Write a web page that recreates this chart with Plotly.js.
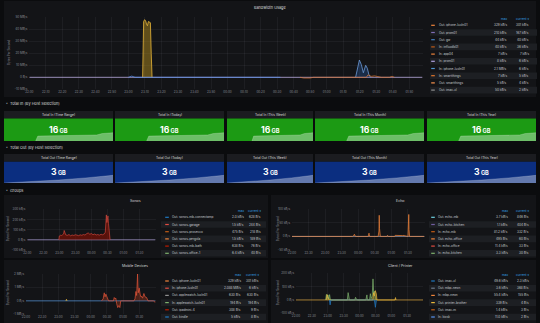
<!DOCTYPE html>
<html><head><meta charset="utf-8">
<script src="https://cdn.plot.ly/plotly-3.0.1.min.js"></script>
<style>html,body{margin:0;padding:0;background:#0b0c0e;overflow:hidden}</style>
</head><body><div id="chart" style="width:540px;height:323px"></div>
<script>
// ================= DATA =================
// time axis: minutes after 22:00
const topTickVals = [0,10,20,30,40,50,60,70,80,90,100,110,120,130,140,150,160,170,180,190,200,210,220,230];
const topTickText = ["22:00","22:10","22:20","22:30","22:40","22:50","23:00","23:10","23:20","23:30","23:40","23:50","00:00","00:10","00:20","00:30","00:40","00:50","01:00","01:10","01:20","01:30","01:40","01:50"];
const grpTickVals = [0,30,60,90,120,150,180,210];
const grpTickText = ["22:00","22:30","23:00","23:30","00:00","00:30","01:00","01:30"];

// Bandwidth Usage (MB/s)
const topYTicks = [-10,0,10,20,30,40,50];
const topYText = ["-10 MB/s","0 B/s","10 MB/s","20 MB/s","30 MB/s","40 MB/s","50 MB/s"];
const topBaseT = [0, 238];
const topBaseV = [0, 0];
const topSpikeT = [68.6, 69.2, 69.8, 70.4, 71.0, 71.5, 72.1, 72.7, 73.3, 73.8, 74.3];
const topSpikeV = [0, 46.5, 48.0, 47.2, 44.0, 43.0, 46.5, 46.0, 45.5, 20, 0];
const topBlueT = [197.5, 198.6, 199.8, 201.0, 202.2, 203.6, 204.6, 205.5, 206.5];
const topBlueV = [0, 8, 14.4, 10.5, 3.8, 10.0, 7.5, 2.5, 0];
const topSmallBlueT = [60, 62, 64, 150, 151, 152];
const topSmallBlueV = [0, 1.0, 0, 0, 0.6, 0];
const topOrangeT = [164, 166, 170, 172, 204, 205, 207, 209, 211, 213, 218, 219.5, 221];
const topOrangeV = [0, -0.6, -0.6, 0, 0, 2.0, 0.8, 1.2, 0.6, 0, 0, 0.7, 0];
const topLegNames = ["Out: iphone-luxln01","Out: prom01","Out: gw","In: influxdb01","In: app04","In: prom01","In: iphone-luxln01","In: smartthings","Out: smartthings","Out: imac-xl"];
const topLegMax = ["329 kB/s","210 kB/s","44 kB/s","40 kB/s","7 kB/s","8 kB/s","2.1 MB/s","7 kB/s","5 kB/s","50 kB/s"];
const topLegCur = ["301 kB/s","167 kB/s","40 kB/s","36 kB/s","7 kB/s","6 kB/s","6 kB/s","5 kB/s","4 kB/s","2 kB/s"];

// Stat panels
const inTitles = ["Total In (Time Range)","Total In (Today)","Total In (This Week)","Total In (This Month)","Total In (This Year)"];
const inValues = ["16","16","16","16","16"];
const outTitles = ["Total Out (Time Range)","Total Out (Today)","Total Out (This Week)","Total Out (This Month)","Total Out (This Year)"];
const outValues = ["3","3","3","3","3"];
const statUnit = "GB";
const inSparkX = [0.29, 0.31, 0.55, 0.80, 0.85, 0.90, 1.0];
const inSparkV = [0, 0.22, 0.24, 0.26, 0.27, 0.33, 0.37];
const outSparkX = [0, 0.25, 0.5, 0.75, 0.85, 1.0];
const outSparkV = [0, 0.06, 0.14, 0.24, 0.28, 0.36];

// Sonos (kB/s)
const sonosYTicks = [-100,0,100,200,300];
const sonosYText = ["-100 kB/s","0 B/s","100 kB/s","200 kB/s","300 kB/s"];
const sonosT = [59,60,62,64,66,68,69,70,72,75,78,81,84,87,90,93,96,99,102,105,108,111,114,117,120,123,126,129,132,135,138,141,144,146,147,148,149,150,151,152,153,154,155];
const sonosV = [0,38,45,42,50,58,92,65,48,44,52,40,47,43,50,46,41,49,45,52,47,60,68,55,62,50,57,48,52,46,55,50,58,75,130,245,170,200,235,160,95,40,0];
const sonosLegNames = ["Out: sonos-mb-connectamp","Out: sonos-garage","Out: sonos-prosecco","Out: sonos-pergola","Out: sonos-mb-bath","Out: sonos-office-1"];
const sonosLegMax = ["2.0 kB/s","1.5 kB/s","475 B/s","1.5 kB/s","638 B/s","6.4 kB/s"];
const sonosLegCur = ["628 B/s","244 B/s","218 B/s","189 B/s","76 B/s","40 B/s"];

// Echo (kB/s)
const echoYTicks = [-50,0,50,100];
const echoYText = ["-50 kB/s","0 B/s","50 kB/s","100 kB/s"];
const echoT = [0,110,112,113,114,116,138,139.5,140,141,156,157.5,158,158.5,160,172,173,174,186,187,200,201,210,211,211.5,212,213,240];
const echoV = [0,0,4,8,2,0,0,12,6,0,0,20,78,30,0,0,4,0,0,4,3,4,0,40,81,25,0,0];
const echoLegNames = ["Out: echo-mb","Out: echo-kitchen","In: echo-mb","Out: echo-office","In: echo-office","In: echo-kitchen"];
const echoLegMax = ["3.7 kB/s","1.1 kB/s","81.2 kB/s","495 B/s","11.4 kB/s","3.3 kB/s"];
const echoLegCur = ["846 B/s","404 B/s","332 B/s","60 B/s","33 B/s","30 B/s"];

// Mobile Devices (MB/s)
const mobYTicks = [-1,0,1,2];
const mobYText = ["-1 MB/s","0 B/s","1 MB/s","2 MB/s"];
const mobT = [140,143,145,146.5,148,149.5,151,153,162,163.5,165,166.5,168,170,172,174,175.5,200,202,203.7,205,206.8,208,209.8,211.5,213,214,216,218.5,220.5,223.5,226,236,239,240];
const mobV = [0,0.15,0.6,0.3,0.5,0.3,0.2,0,0,0.25,0.15,0.2,-0.2,-0.5,-0.35,-0.5,0,0,0.15,0.7,0.4,2.0,0.6,0.95,0.5,0.3,0.35,0.2,0.55,0.3,0.25,0,0,-0.1,-0.1];
const mobBlipT = [74, 75, 76];
const mobBlipV = [0, 0.12, 0];
const mobLegNames = ["Out: iphone-luxln01","In: iphone-luxln01","Out: applewatch-luxln01","In: applewatch-luxln01","Out: ipadmini-4","Out: kindle"];
const mobLegMax = ["329 kB/s","2.088 MB/s","630 B/s","194 B/s","308 B/s","5 kB/s"];
const mobLegCur = ["301 kB/s","6 kB/s","630 B/s","194 B/s","9 B/s","8 B/s"];

// Client / Printer (kB/s)
const cliYTicks = [-100,0,100,200];
const cliYText = ["-100 kB/s","0 B/s","100 kB/s","200 kB/s"];
const cliGreenT = [56,57.5,59,60.5,62,63.5,65,97,98.5,99.5,101,111,112.5,114,116,132,134,135,139,140.5,142,144,145.5,147,148,150,152];
const cliGreenV = [0,42,10,38,5,40,0,0,55,20,0,0,20,8,0,0,38,0,0,47,10,30,158,40,66,20,0];
const cliYellowT = [57,59,60,61,63,145,146.7,148,150,151.8,153,187,188,189];
const cliYellowV = [0,40,25,15,0,0,55,30,70,45,0,0,18,0];
const cliBlueT = [63,64.5,66,148,150,152];
const cliBlueV = [0,-37,0,0,-55,0];
const cliLegNames = ["Out: imac-xl","Out: mbp-neon","In: mbp-neon","Out: printer-brother","Out: imac-m","In: kiosk"];
const cliLegMax = ["49.6 kB/s","3.6 kB/s","55.4 kB/s","339 B/s","1.4 kB/s","11.0 kB/s"];
const cliLegCur = ["2.3 kB/s","368 B/s","155 B/s","4 B/s","3 B/s","2 B/s"];

// ================= STYLE =================
const W = 540, H = 323;
const X = p => p / W, Y = p => 1 - p / H;
const FONT = 'Inter, Roboto, "DejaVu Sans", sans-serif';
const PAGE = '#0b0c0e', PANEL = '#131417', STRIPE = '#1d1f23', HEAD = '#1b1c20';
const GRID = 'rgba(204,204,220,0.10)', TICK = '#8e9098', TXT = '#c7cbd1', BLUE_TXT = '#33a2e5';
const TS = 3.0, LS = 3.1;
const topLegColors = ['#EF843C','#806EB7','#447EBC','#C15C17','#EF843C','#AEA2E0','#5195CE','#E0752D','#F9934E','#8F8F8F'];
const sonosLegColors = ['#1F78C1','#E24D42','#C15C17','#EF843C','#BF1B00','#7EB26D'];
const echoLegColors = ['#6ED0E0','#705DA0','#C15C17','#EF843C','#E24D42','#7EB26D'];
const mobLegColors = ['#EF843C','#E24D42','#8F8F8F','#7EB26D','#BF1B00','#1F78C1'];
const cliLegColors = ['#1F78C1','#6D7B8D','#EF843C','#EAB839','#C15C17','#5794F2'];

const shapes = [], annotations = [], traces = [];
const layout = {
  width: W, height: H, margin: {l:0, r:0, t:0, b:0},
  paper_bgcolor: PAGE, plot_bgcolor: 'rgba(0,0,0,0)',
  showlegend: false, font: {family: FONT, color: TXT},
  hovermode: false
};

function rect(x0, y0, x1, y1, color) {
  shapes.push({type:'rect', xref:'paper', yref:'paper', x0:X(x0), x1:X(x1), y0:Y(y1), y1:Y(y0),
    fillcolor: color, line:{width:0}, layer:'below'});
}
function txt(x, y, text, size, color, xanchor, opts) {
  annotations.push(Object.assign({xref:'paper', yref:'paper', x:X(x), y:Y(y), text:text, showarrow:false,
    xanchor: xanchor || 'center', yanchor:'middle', borderpad:0,
    font:{size:size, color:color, family:FONT}}, opts || {}));
}
function axes(i, box, yr, ytv, ytt, xr, xtv, xtt) {
  const s = i === 1 ? '' : String(i);
  layout['xaxis' + s] = {domain:[X(box[0]), X(box[1])], range:xr, anchor:'y' + s,
    tickmode:'array', tickvals:xtv, ticktext:xtt, showgrid:true, gridcolor:GRID, gridwidth:0.6,
    zeroline:false, showline:false, ticks:'', tickfont:{size:TS, color:TICK, family:FONT},
    ticklabelstandoff:0, fixedrange:true};
  layout['yaxis' + s] = {domain:[Y(box[3]), Y(box[2])], range:yr, anchor:'x' + s,
    tickmode:'array', tickvals:ytv, ticktext:ytt, showgrid:true, gridcolor:GRID, gridwidth:0.6,
    zeroline:false, showline:false, ticks:'', tickfont:{size:TS, color:TICK, family:FONT},
    ticklabelstandoff:1, fixedrange:true};
}
function series(i, x, y, color, fillcolor, width) {
  const s = i === 1 ? '' : String(i);
  const t = {type:'scatter', mode:'lines', x:x, y:y, xaxis:'x' + s, yaxis:'y' + s,
    line:{color:color, width:width || 0.7}, hoverinfo:'skip'};
  if (fillcolor) { t.fill = 'tozeroy'; t.fillcolor = fillcolor; }
  traces.push(t);
}
function legend(cfg, names, maxs, curs, colors) {
  txt(cfg.maxR, cfg.headY, 'max', LS, BLUE_TXT, 'right');
  txt(cfg.curR, cfg.headY, 'current ▾', LS, BLUE_TXT, 'right');
  names.forEach((n, i) => {
    const yy = cfg.row0 + i * cfg.dy;
    if (i % 2 === 1) rect(cfg.x0, yy - 3.3, cfg.x1, yy + 3.3, STRIPE);
    shapes.push({type:'line', xref:'paper', yref:'paper', x0:X(cfg.mk - 1.8), x1:X(cfg.mk + 1.8),
      y0:Y(yy), y1:Y(yy), line:{color:colors[i], width:1.2}});
    txt(cfg.nameX, yy, n, LS, TXT, 'left');
    txt(cfg.maxR, yy, maxs[i], LS, TXT, 'right');
    txt(cfg.curR, yy, curs[i], LS, TXT, 'right');
  });
}

// ---------- panel backgrounds ----------
rect(4, 1, 536, 97, PANEL);
rect(4, 195, 268, 258, PANEL);
rect(271, 195, 536, 258, PANEL);
rect(4, 260, 268, 323, PANEL);
rect(271, 260, 536, 323, PANEL);

// ---------- Bandwidth Usage ----------
txt(270, 7, 'Bandwidth Usage', 3.8, '#d8d9da');
txt(9, 53, 'Bytes Per Second', 3.0, TICK, 'center', {textangle:-90});
axes(1, [29.3, 422.5, 17.3, 89.3], [-10, 50], topYTicks, topYText, [0, 238], topTickVals, topTickText);
series(1, topBaseT, topBaseV, '#b9a8de', null, 0.8);
series(1, topSpikeT, topSpikeV, '#EAB839', 'rgba(190,148,30,0.45)', 0.8);
series(1, topBlueT, topBlueV, '#6C9BD8', 'rgba(40,90,160,0.35)', 0.8);
series(1, topSmallBlueT, topSmallBlueV, '#5794F2', null, 0.7);
series(1, topOrangeT, topOrangeV, '#E0752D', null, 0.7);
legend({headY:19.3, row0:25.3, dy:7.2, x0:430, x1:537, mk:433, nameX:437.5, maxR:508, curR:530},
  topLegNames, topLegMax, topLegCur, topLegColors);

// ---------- Stat rows ----------
const statCols = [[4,113],[115,224],[227,313],[315,424],[427,536]];
txt(5, 104, '˅  Total In (By Host Selection)', 3.9, '#d8d9da', 'left');
txt(5, 147.3, '˅  Total Out (By Host Selection)', 3.9, '#d8d9da', 'left');
txt(5, 190, '˅  Groups', 3.9, '#d8d9da', 'left');
function statRow(startAxis, top, titleY, bodyTop, bottom, color, titles, values, sx, sv) {
  statCols.forEach((c, k) => {
    rect(c[0], top, c[1], bodyTop, HEAD);
    rect(c[0], bodyTop, c[1], bottom, color);
    txt((c[0] + c[1]) / 2, titleY, titles[k], 3.3, '#d8d9da');
    const i = startAxis + k, s = String(i);
    layout['xaxis' + s] = {domain:[X(c[0]), X(c[1])], range:[0, 1], anchor:'y' + s, visible:false, fixedrange:true};
    layout['yaxis' + s] = {domain:[Y(bottom), Y(bodyTop)], range:[0, 1], anchor:'x' + s, visible:false, fixedrange:true};
    traces.push({type:'scatter', mode:'lines', x:sx, y:sv, xaxis:'x' + s, yaxis:'y' + s,
      fill:'tozeroy', fillcolor:'rgba(255,255,255,0.36)', line:{width:0.4, color:'rgba(255,255,255,0.5)'}, hoverinfo:'skip'});
    txt((c[0] + c[1]) / 2, (bodyTop + bottom) / 2, '<b>' + values[k] + '</b><span style="font-size:5.6px"><b> ' + statUnit + '</b></span>', 8.6, '#ffffff');
  });
}
statRow(6, 111, 115, 118.5, 141, '#1c9a14', inTitles, inValues, inSparkX, inSparkV);
statRow(11, 154, 158, 161.7, 183, '#0b2e80', outTitles, outValues, outSparkX, outSparkV);

// ---------- Sonos ----------
txt(135, 200.7, 'Sonos', 3.6, '#d8d9da');
txt(8.3, 229, 'Bytes Per Second', 3.0, TICK, 'center', {textangle:-90});
axes(2, [27.3, 155.5, 209.3, 250], [-100, 300], sonosYTicks, sonosYText, [0, 240], grpTickVals, grpTickText);
series(2, [0, 240], [0, 0], '#a99ed6', null, 0.7);
series(2, sonosT, sonosV, '#E24D42', 'rgba(137,15,2,0.6)', 0.6);
legend({headY:210.7, row0:217.3, dy:7.2, x0:161, x1:266, mk:167, nameX:171, maxR:245, curR:262},
  sonosLegNames, sonosLegMax, sonosLegCur, sonosLegColors);

// ---------- Echo ----------
txt(400, 200.7, 'Echo', 3.6, '#d8d9da');
txt(278.3, 229, 'Bytes Per Second', 3.0, TICK, 'center', {textangle:-90});
axes(3, [292, 424.5, 209.3, 250], [-50, 100], echoYTicks, echoYText, [0, 240], grpTickVals, grpTickText);
series(3, [0, 240], [0, 0], '#7fa7d9', null, 0.7);
series(3, echoT, echoV, '#EF843C', 'rgba(193,92,23,0.35)', 0.7);
legend({headY:210.7, row0:217.3, dy:7.2, x0:429, x1:536, mk:433, nameX:437, maxR:509, curR:530},
  echoLegNames, echoLegMax, echoLegCur, echoLegColors);

// ---------- Mobile Devices ----------
txt(135, 265.7, 'Mobile Devices', 3.6, '#d8d9da');
txt(8.3, 293, 'Bytes Per Second', 3.0, TICK, 'center', {textangle:-90});
axes(4, [26, 155.5, 274, 314.3], [-1, 2], mobYTicks, mobYText, [0, 240], grpTickVals, grpTickText);
series(4, [0, 240], [0, 0], '#4f8fd6', null, 0.7);
series(4, mobBlipT, mobBlipV, '#EAB839', null, 0.7);
series(4, mobT, mobV, '#E2553A', 'rgba(180,60,30,0.35)', 0.7);
legend({headY:275, row0:281, dy:7.2, x0:161, x1:266, mk:167, nameX:171, maxR:242, curR:260},
  mobLegNames, mobLegMax, mobLegCur, mobLegColors);

// ---------- Client / Printer ----------
txt(400, 265.7, 'Client / Printer', 3.6, '#d8d9da');
txt(278.3, 293, 'Bytes Per Second', 3.0, TICK, 'center', {textangle:-90});
axes(5, [296, 423, 273.3, 313.3], [-100, 200], cliYTicks, cliYText, [0, 240], grpTickVals, grpTickText);
series(5, [0, 240], [0, 0], '#d9a33a', null, 0.7);
series(5, cliGreenT, cliGreenV, '#7EB26D', 'rgba(98,158,81,0.3)', 0.7);
series(5, cliYellowT, cliYellowV, '#EAB839', 'rgba(234,184,57,0.3)', 0.7);
series(5, cliBlueT, cliBlueV, '#1F78C1', 'rgba(31,120,193,0.35)', 0.7);
legend({headY:275, row0:281, dy:7.2, x0:429, x1:536, mk:433, nameX:437, maxR:509, curR:530},
  cliLegNames, cliLegMax, cliLegCur, cliLegColors);

layout.shapes = shapes;
layout.annotations = annotations;
Plotly.newPlot('chart', traces, layout, {staticPlot:true, displayModeBar:false});
</script></body></html>
